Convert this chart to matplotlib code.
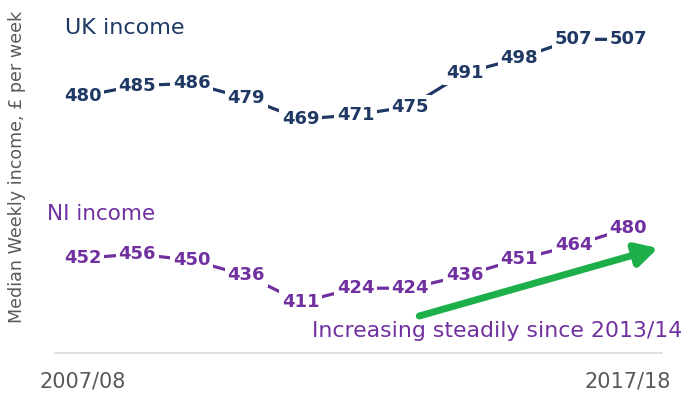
import matplotlib
matplotlib.use("Agg")
import matplotlib.pyplot as plt

years = ["2007/08", "2008/09", "2009/10", "2010/11", "2011/12", "2012/13",
         "2013/14", "2014/15", "2015/16", "2016/17", "2017/18"]
uk_income = [480, 485, 486, 479, 469, 471, 475, 491, 498, 507, 507]
ni_income = [452, 456, 450, 436, 411, 424, 424, 436, 451, 464, 480]
tick_labels = ["2007/08", "2017/18"]

NAVY = "#1f3864"
PURPLE = "#7030a0"
GREEN = "#1db04a"
GREY = "#595959"

plt.rcParams['font.family'] = ['DejaVu Sans']

fig = plt.figure(figsize=(6.82, 3.94), dpi=100)
ax = fig.add_axes([0.0806, 0.104, 0.890, 0.883])
ax2 = ax.twinx()

x = list(range(len(years)))
ax.set_xlim(-0.51, 10.62)
ax.set_ylim(357.6, 523.3)
ax2.set_ylim(363.4, 688.6)

def draw(a, vals, color):
    a.plot(x, vals, color=color, lw=2.3, solid_capstyle='butt', zorder=2)
    for xi, v in zip(x, vals):
        a.text(xi, v, str(v), ha='center', va='center', fontsize=13,
               fontweight='bold', color=color, zorder=3,
               bbox=dict(boxstyle='square,pad=0.15', fc='white', ec='none'))

draw(ax, uk_income, NAVY)
draw(ax2, ni_income, PURPLE)

for a in (ax, ax2):
    for s in a.spines.values():
        s.set_visible(False)
    a.set_yticks([])
ax.spines['bottom'].set_visible(True)
ax.spines['bottom'].set_color('#d9d9d9')
ax.spines['bottom'].set_linewidth(1.2)

ax.set_xticks([0, 10])
ax.set_xticklabels(tick_labels, fontsize=15, color=GREY)
ax.tick_params(axis='x', length=0, pad=13)

ax.set_ylabel("Median Weekly income, £ per week", fontsize=12.6, color=GREY)
ax.yaxis.set_label_coords(-0.047, 0.535)

ax.text(0.016, 0.934, "UK income", transform=ax.transAxes, fontsize=16,
        color=NAVY, ha='left', va='center')
ax.text(-0.013, 0.40, "NI income", transform=ax.transAxes, fontsize=15.5,
        color=PURPLE, ha='left', va='center')
ax.text(0.423, 0.063, "Increasing steadily since 2013/14", transform=ax.transAxes,
        fontsize=15.8, color=PURPLE, ha='left', va='center')

ax2.annotate("", xy=(10.55, 461.5), xytext=(6.17, 398),
             arrowprops=dict(arrowstyle='-|>,head_length=1.3,head_width=0.7',
                             color=GREEN, lw=5, shrinkA=0, shrinkB=0),
             zorder=4)

fig.savefig("out.png", dpi=100)
